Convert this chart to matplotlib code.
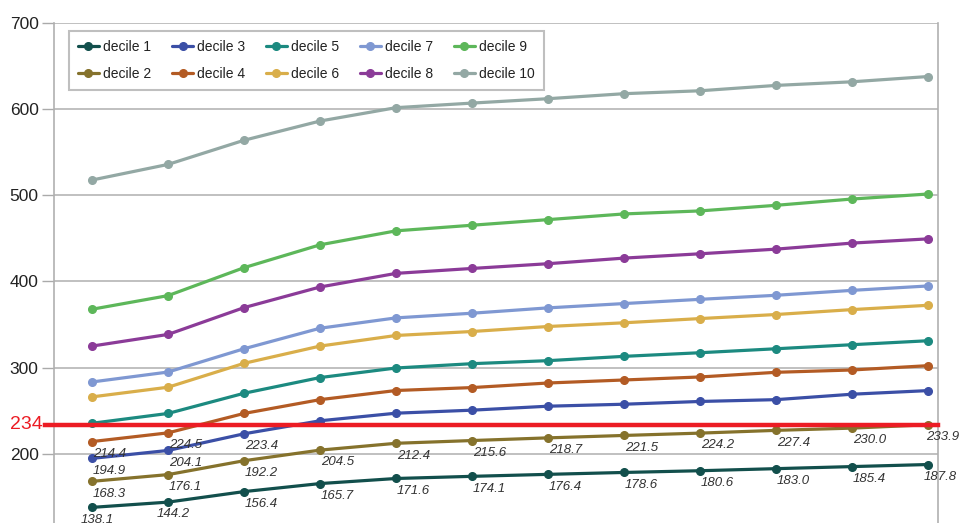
import matplotlib
matplotlib.use("Agg")
import matplotlib.pyplot as plt
import matplotlib.transforms as mtransforms

plt.rcParams['font.family'] = ['Liberation Sans', 'DejaVu Sans']

periods = list(range(12))
series_names = [f"decile {i}" for i in range(1, 11)]

decile_1 = [138.1, 144.2, 156.4, 165.7, 171.6, 174.1, 176.4, 178.6, 180.6, 183.0, 185.4, 187.8]
decile_2 = [168.3, 176.1, 192.2, 204.5, 212.4, 215.6, 218.7, 221.5, 224.2, 227.4, 230.0, 233.9]
decile_3 = [194.9, 204.1, 223.4, 238.5, 247.3, 250.8, 255.4, 257.7, 260.9, 263.0, 269.3, 273.5]
decile_4 = [214.4, 224.5, 247.0, 263.0, 273.6, 277.0, 282.3, 285.8, 289.3, 294.7, 297.4, 302.4]
decile_5 = [235.6, 247.0, 270.4, 288.6, 299.7, 304.7, 308.2, 313.2, 317.4, 322.0, 326.7, 331.3]
decile_6 = [266.2, 277.4, 305.1, 325.1, 337.4, 342.0, 347.8, 352.1, 357.0, 361.7, 367.4, 372.4]
decile_7 = [283.5, 295.0, 322.0, 345.8, 357.8, 363.2, 369.4, 374.4, 379.3, 384.0, 389.7, 394.8]
decile_8 = [325.1, 338.6, 369.7, 393.6, 409.4, 415.1, 420.6, 427.1, 432.1, 437.5, 444.5, 449.4]
decile_9 = [367.8, 383.6, 416.0, 442.5, 458.7, 465.2, 471.7, 478.3, 481.8, 488.3, 495.6, 501.4]
decile_10 = [517.6, 535.7, 563.7, 586.0, 601.5, 606.8, 611.9, 617.7, 621.1, 627.3, 631.5, 637.6]

all_series = [decile_1, decile_2, decile_3, decile_4, decile_5,
              decile_6, decile_7, decile_8, decile_9, decile_10]

colors = ["#124f4c", "#85722c", "#3b4fa6", "#b35b24", "#1c8a80",
          "#d9ae4a", "#7f98d2", "#8b3b98", "#5db75a", "#93a8a4"]

# which points carry a value label: (series index, point indices)
labelled = {0: list(range(12)), 1: list(range(12)), 2: [0, 1, 2], 3: [0, 1]}
# horizontal label nudges (points) that differ from the default
nudges = {(0, 0): -8.0, (0, 1): -8.0, (0, 11): -3.0, (1, 11): -1.5}

threshold = 234
yticks = [200, 300, 400, 500, 600, 700]

W, H = 961, 523
fig = plt.figure(figsize=(W / 100, H / 100), dpi=100)
left, right, top = 54, 938, 22.7
ax = fig.add_axes([left / W, 0, (right - left) / W, (H - top) / H])

for name, vals, c in zip(series_names, all_series, colors):
    ax.plot(periods, vals, color=c, lw=2.3, marker='o', ms=5.5,
            label=name, solid_capstyle='round', zorder=3)

for si, idxs in labelled.items():
    for i in idxs:
        v = all_series[si][i]
        dx = nudges.get((si, i), 0.5)
        ax.annotate(f"{v:.1f}", (periods[i], v), xytext=(dx, -4.5),
                    textcoords='offset points', ha='left', va='top',
                    fontsize=9.5, style='italic', color='#333333',
                    annotation_clip=False, zorder=5)

# red threshold line extending slightly into the tick area
trans = mtransforms.blended_transform_factory(ax.transAxes, ax.transData)
ax.plot([-0.0105, 1.0], [threshold, threshold], color='#ec1c24', lw=3.2,
        transform=trans, clip_on=False, zorder=4)
ax.text(-0.013, threshold, str(threshold), transform=trans, ha='right',
        va='center', color='#ec1c24', fontsize=14)

ax.set_xlim(-0.5, 11.13)
ax.set_ylim(120, 700)
ax.set_yticks(yticks)
ax.set_yticklabels([str(t) for t in yticks], fontsize=12.5, color='#222222')
ax.set_xticks([])
ax.tick_params(axis='y', length=9, width=1, color='#aaaaaa', pad=2)
ax.grid(axis='y', color='#b5b5b5', lw=1.2, zorder=0)
ax.set_axisbelow(True)
for s in ['top', 'bottom']:
    ax.spines[s].set_visible(False)
for s in ['left', 'right']:
    ax.spines[s].set_color('#b0b0b0')
    ax.spines[s].set_linewidth(1.2)

leg = ax.legend(ncol=5, loc='upper left', bbox_to_anchor=(15 / 884, 1 - 8 / 500.3),
                fontsize=10, handlelength=1.5, handletextpad=0.3,
                columnspacing=1.5, labelspacing=0.95, borderpad=0.65,
                frameon=True, fancybox=False, borderaxespad=0)
leg.get_frame().set_edgecolor('#b0b0b0')
leg.get_frame().set_linewidth(1.5)
for t in leg.get_texts():
    t.set_color('#222222')

fig.savefig("out.png", dpi=100)
